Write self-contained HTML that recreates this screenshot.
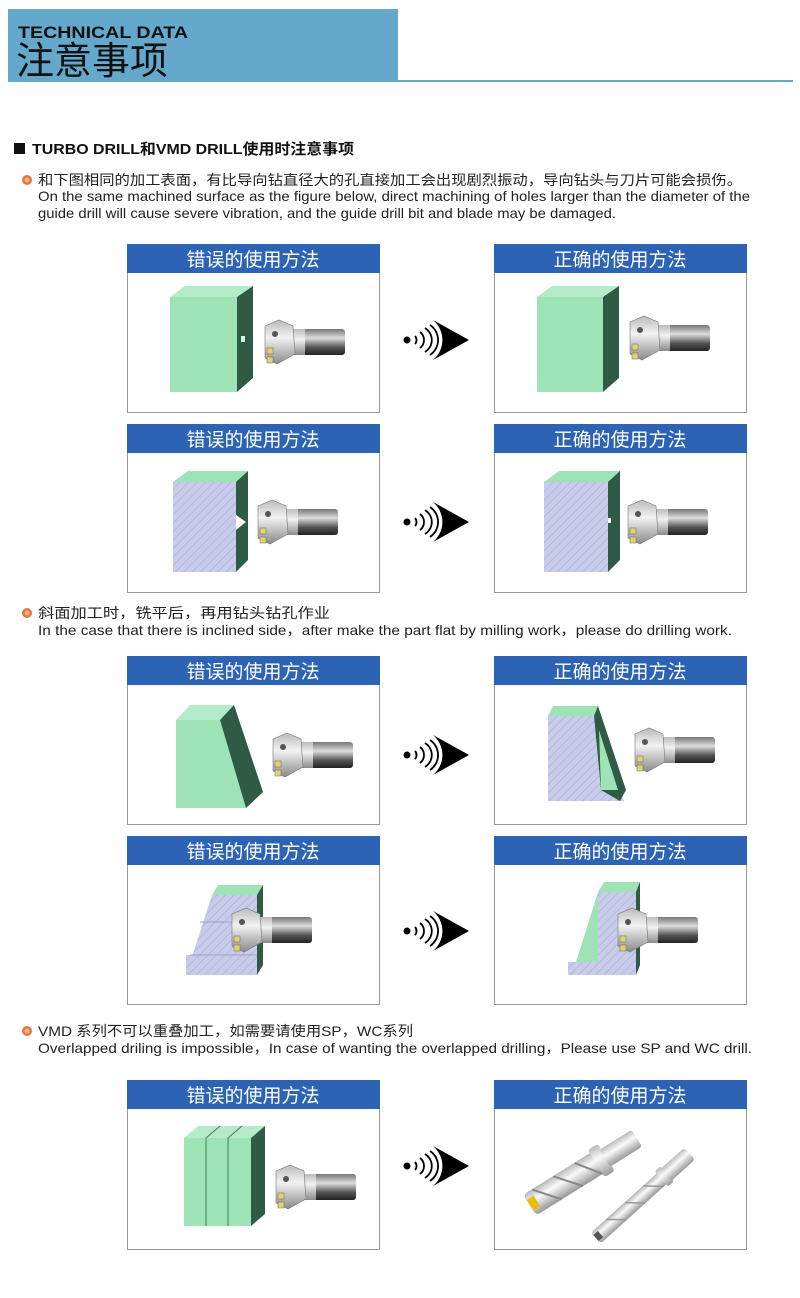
<!DOCTYPE html>
<html><head><meta charset="utf-8"><style>
html,body{margin:0;padding:0;background:#fff;}
svg{display:block}
</style></head><body>
<svg width="800" height="1298" viewBox="0 0 800 1298" xmlns="http://www.w3.org/2000/svg" font-family="'Liberation Sans','Noto Sans CJK SC',sans-serif">
<defs>
<pattern id="h" width="6" height="6" patternUnits="userSpaceOnUse" patternTransform="rotate(45)">
<rect width="6" height="6" fill="#c9cbea"/><line x1="0" y1="0" x2="0" y2="6" stroke="#a9acd2" stroke-width="1.2"/>
</pattern>
<linearGradient id="sh" x1="0" y1="0" x2="0" y2="1"><stop offset="0" stop-color="#777"/><stop offset=".35" stop-color="#ddd"/><stop offset=".7" stop-color="#555"/><stop offset="1" stop-color="#222"/></linearGradient>
<linearGradient id="hd" x1="0" y1="0" x2="0" y2="1"><stop offset="0" stop-color="#bbb"/><stop offset=".4" stop-color="#f2f2f2"/><stop offset="1" stop-color="#8a8a8a"/></linearGradient>
<linearGradient id="dr" x1="0" y1="0" x2="0" y2="1"><stop offset="0" stop-color="#bbb"/><stop offset=".4" stop-color="#fafafa"/><stop offset="1" stop-color="#999"/></linearGradient>
<g id="tool">
<rect x="26" y="9" width="54" height="26" rx="3" fill="url(#sh)"/>
<rect x="26" y="9" width="14" height="26" fill="url(#hd)"/>
<polygon points="0,6 14,0 28,6 30,34 12,44 0,38" fill="url(#hd)" stroke="#777" stroke-width=".6"/>
<circle cx="10" cy="14" r="3" fill="#555"/>
<rect x="2" y="28" width="6" height="6" fill="#e0d36a" stroke="#666" stroke-width=".5"/>
<rect x="2" y="37" width="6" height="6" fill="#e0d36a" stroke="#666" stroke-width=".5"/>
</g>
<g id="arr">
<circle cx="0" cy="0" r="3.5" fill="#000"/>
<path d="M8,-4 A6,6 0 0 1 8,4 M13,-8 A10,10 0 0 1 13,8 M18,-12 A14,14 0 0 1 18,12 M23,-15 A18,18 0 0 1 23,15" fill="none" stroke="#000" stroke-width="1.8"/>
<path d="M26,-20 L62,0 L26,20 A26,26 0 0 0 26,-20 Z" fill="#000"/>
</g>
</defs>

<!-- header -->
<rect x="8" y="9" width="390" height="73" fill="#64a9cc"/>
<rect x="398" y="80" width="395" height="2" fill="#64a9cc"/>
<text x="18" y="38" font-size="17" font-weight="bold" fill="#111" textLength="170" lengthAdjust="spacingAndGlyphs">TECHNICAL DATA</text>
<text x="16" y="74" font-size="38" fill="#111">注意事项</text>

<rect x="14" y="143" width="11" height="11" fill="#111"/>
<text x="32" y="154" font-size="15" font-weight="bold" fill="#111" textLength="322" lengthAdjust="spacingAndGlyphs">TURBO DRILL和VMD DRILL使用时注意事项</text>

<g font-size="14" fill="#222">
<circle cx="27" cy="180" r="5" fill="#e8743f"/><circle cx="27" cy="180" r="2.5" fill="#f6b48e"/>
<text x="38" y="185" textLength="704" lengthAdjust="spacingAndGlyphs">和下图相同的加工表面，有比导向钻直径大的孔直接加工会出现剧烈振动，导向钻头与刀片可能会损伤。</text>
<text x="38" y="201" textLength="712" lengthAdjust="spacingAndGlyphs">On the same machined surface as the figure below, direct machining of holes larger than the diameter of the</text>
<text x="38" y="218" textLength="578" lengthAdjust="spacingAndGlyphs">guide drill will cause severe vibration, and the guide drill bit and blade may be damaged.</text>

<circle cx="27" cy="613" r="5" fill="#e8743f"/><circle cx="27" cy="613" r="2.5" fill="#f6b48e"/>
<text x="38" y="618" textLength="292" lengthAdjust="spacingAndGlyphs">斜面加工时，铣平后，再用钻头钻孔作业</text>
<text x="38" y="635" textLength="694" lengthAdjust="spacingAndGlyphs">In the case that there is inclined side，after make the part flat by milling work，please do drilling work.</text>

<circle cx="27" cy="1031" r="5" fill="#e8743f"/><circle cx="27" cy="1031" r="2.5" fill="#f6b48e"/>
<text x="38" y="1036" textLength="375" lengthAdjust="spacingAndGlyphs">VMD 系列不可以重叠加工，如需要请使用SP，WC系列</text>
<text x="38" y="1053" textLength="714" lengthAdjust="spacingAndGlyphs">Overlapped driling is impossible，In case of wanting the overlapped drilling，Please use SP and WC drill.</text>
</g>

<!-- panels -->
<g stroke="#999" stroke-width="1" fill="#fff">
<rect x="127.5" y="244.5" width="252" height="168"/><rect x="494.5" y="244.5" width="252" height="168"/>
<rect x="127.5" y="424.5" width="252" height="168"/><rect x="494.5" y="424.5" width="252" height="168"/>
<rect x="127.5" y="656.5" width="252" height="168"/><rect x="494.5" y="656.5" width="252" height="168"/>
<rect x="127.5" y="836.5" width="252" height="168"/><rect x="494.5" y="836.5" width="252" height="168"/>
<rect x="127.5" y="1080.5" width="252" height="169"/><rect x="494.5" y="1080.5" width="252" height="169"/>
</g>
<g fill="#2c63b5">
<rect x="127" y="244" width="253" height="29"/><rect x="494" y="244" width="253" height="29"/>
<rect x="127" y="424" width="253" height="29"/><rect x="494" y="424" width="253" height="29"/>
<rect x="127" y="656" width="253" height="29"/><rect x="494" y="656" width="253" height="29"/>
<rect x="127" y="836" width="253" height="29"/><rect x="494" y="836" width="253" height="29"/>
<rect x="127" y="1080" width="253" height="29"/><rect x="494" y="1080" width="253" height="29"/>
</g>
<g fill="#fff" font-size="19" text-anchor="middle">
<text x="253" y="266">错误的使用方法</text><text x="620" y="266">正确的使用方法</text>
<text x="253" y="446">错误的使用方法</text><text x="620" y="446">正确的使用方法</text>
<text x="253" y="678">错误的使用方法</text><text x="620" y="678">正确的使用方法</text>
<text x="253" y="858">错误的使用方法</text><text x="620" y="858">正确的使用方法</text>
<text x="253" y="1102">错误的使用方法</text><text x="620" y="1102">正确的使用方法</text>
</g>

<!-- arrows -->
<use href="#arr" x="407" y="340"/>
<use href="#arr" x="407" y="522"/>
<use href="#arr" x="407" y="755"/>
<use href="#arr" x="407" y="931"/>
<use href="#arr" x="407" y="1166"/>

<!-- row1 -->
<polygon points="170,297 185,286 253,286 237,297" fill="#b4ecc9"/>
<rect x="170" y="297" width="67" height="95" fill="#9de3b6"/>
<polygon points="237,297 253,286 253,378 237,392" fill="#2f5a46"/>
<rect x="241" y="336" width="4" height="6" fill="#cfe"/>
<use href="#tool" x="265" y="320"/>
<polygon points="537,297 552,286 619,286 603,297" fill="#b4ecc9"/>
<rect x="537" y="297" width="66" height="95" fill="#9de3b6"/>
<polygon points="603,297 619,286 619,378 603,392" fill="#2f5a46"/>
<use href="#tool" x="630" y="316"/>

<!-- row2 -->
<polygon points="173,482 188,471 248,471 236,482" fill="#9de3b6"/>
<rect x="173" y="482" width="63" height="90" fill="url(#h)"/>
<polygon points="236,482 248,471 248,560 236,572" fill="#2f5a46"/>
<polygon points="236,515 246,522 236,530" fill="#fff"/>
<use href="#tool" x="258" y="500"/>
<polygon points="544,482 559,471 620,471 608,482" fill="#9de3b6"/>
<rect x="544" y="482" width="64" height="90" fill="url(#h)"/>
<polygon points="608,482 620,471 620,560 608,572" fill="#2f5a46"/>
<rect x="608" y="518" width="3" height="5" fill="#fff"/>
<use href="#tool" x="628" y="500"/>

<!-- row3 -->
<polygon points="176,720 190,705 234,705 220,720" fill="#b4ecc9"/>
<polygon points="176,720 220,720 246,808 176,808" fill="#9de3b6"/>
<polygon points="220,720 234,705 263,792 246,808" fill="#2f5a46"/>
<use href="#tool" x="273" y="733"/>
<polygon points="548,716 553,706 598,706 594,716" fill="#9de3b6"/>
<polygon points="548,716 594,716 601,790 620,790 624,801 548,801" fill="url(#h)"/>
<polygon points="594,716 598,706 626,790 620,801 601,790" fill="#2f5a46"/>
<polygon points="599,730 618,790 601,790" fill="#9de3b6"/>
<use href="#tool" x="635" y="728"/>

<!-- row4 -->
<polygon points="212,895 218,885 263,885 257,895" fill="#9de3b6"/>
<polygon points="212,895 257,895 257,975 186,975" fill="url(#h)"/>
<rect x="186" y="955" width="71" height="20" fill="url(#h)"/>
<polygon points="257,895 263,885 263,965 257,975" fill="#2f5a46"/>
<line x1="200" y1="922" x2="257" y2="922" stroke="#9a9dc6"/><line x1="190" y1="955" x2="257" y2="955" stroke="#9a9dc6"/>
<use href="#tool" x="232" y="908"/>
<polygon points="598,892 604,882 640,882 636,892" fill="#9de3b6"/>
<polygon points="598,892 636,892 636,975 568,975 568,962 598,962" fill="url(#h)"/>
<polygon points="598,892 598,962 576,962" fill="#9de3b6"/>
<polygon points="636,892 640,882 640,965 636,975" fill="#2f5a46"/>
<use href="#tool" x="618" y="908"/>

<!-- row5 -->
<polygon points="184,1138 198,1126 265,1126 251,1138" fill="#b4ecc9"/>
<rect x="184" y="1138" width="67" height="88" fill="#9de3b6"/>
<line x1="206" y1="1138" x2="206" y2="1226" stroke="#3f7a5a"/><line x1="228" y1="1138" x2="228" y2="1226" stroke="#3f7a5a"/>
<line x1="206" y1="1138" x2="220" y2="1126" stroke="#3f7a5a"/><line x1="228" y1="1138" x2="242" y2="1126" stroke="#3f7a5a"/>
<polygon points="251,1138 265,1126 265,1214 251,1226" fill="#2f5a46"/>
<use href="#tool" x="276" y="1165"/>
<g transform="translate(530,1205) rotate(-32)">
<rect x="0" y="-12" width="80" height="24" rx="4" fill="url(#dr)" stroke="#aaa" stroke-width=".5"/>
<rect x="78" y="-16" width="12" height="32" rx="3" fill="url(#dr)"/>
<rect x="88" y="-10" width="38" height="20" rx="3" fill="url(#dr)"/>
<path d="M10,-12 L30,12 M35,-12 L55,12 M60,-12 L78,12" stroke="#888" stroke-width="2"/>
<rect x="0" y="-6" width="8" height="12" fill="#e8c000"/>
</g>
<g transform="translate(596,1238) rotate(-42)">
<rect x="0" y="-7" width="90" height="14" rx="3" fill="url(#dr)" stroke="#aaa" stroke-width=".5"/>
<rect x="88" y="-10" width="8" height="20" rx="2" fill="url(#dr)"/>
<rect x="94" y="-8" width="32" height="16" rx="3" fill="url(#dr)"/>
<path d="M20,-7 L35,7 M45,-7 L60,7 M70,-7 L85,7" stroke="#999" stroke-width="1.5"/>
<rect x="0" y="-4" width="6" height="8" fill="#555"/>
</g>
</svg>
</body></html>
